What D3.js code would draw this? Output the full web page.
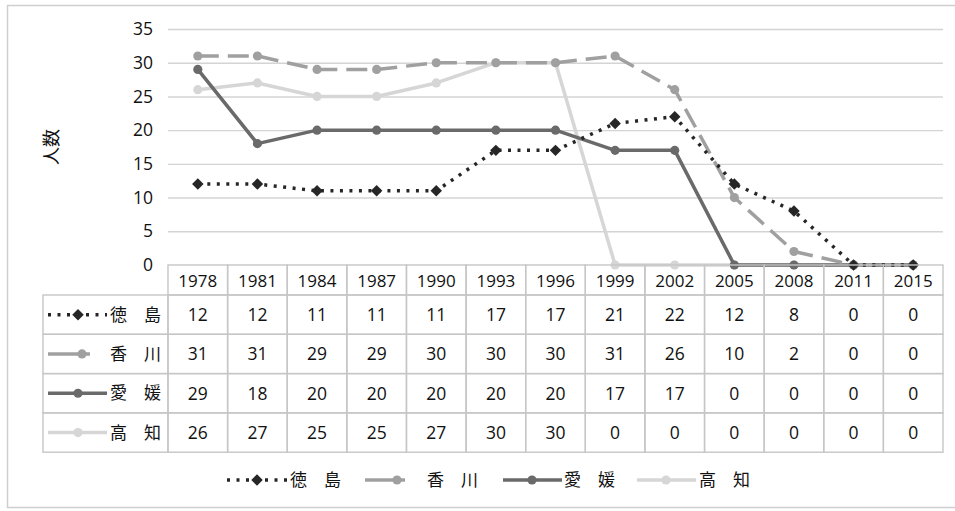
<!DOCTYPE html>
<html>
<head>
<meta charset="utf-8">
<script src="https://cdn.jsdelivr.net/npm/d3@7"></script>
<style>
  html, body { margin: 0; padding: 0; background: #fff; }
  svg { display: block; }
  text { font-family: "Open Sans", "Noto Sans", sans-serif; fill: #111; }
  .jp { font-family: "Noto Sans CJK JP", sans-serif; }
</style>
</head>
<body>
<svg id="chart" width="955" height="511"></svg>
<script>
// Survey years (table header / x categories)
const years = ["1978", "1981", "1984", "1987", "1990", "1993", "1996", "1999", "2002", "2005", "2008", "2011", "2015"];
// Head counts per prefecture
const tokushima = [12, 12, 11, 11, 11, 17, 17, 21, 22, 12, 8, 0, 0];
const kagawa    = [31, 31, 29, 29, 30, 30, 30, 31, 26, 10, 2, 0, 0];
const ehime     = [29, 18, 20, 20, 20, 20, 20, 17, 17, 0, 0, 0, 0];
const kochi     = [26, 27, 25, 25, 27, 30, 30, 0, 0, 0, 0, 0, 0];
// Series names and y tick labels
const seriesNames = ["徳　島", "香　川", "愛　媛", "高　知"];
const yTicks = [0, 5, 10, 15, 20, 25, 30, 35];
const yTitle = "人数";

const series = [
  { name: seriesNames[0], values: tokushima, color: "#262626", dash: "3,6.5", marker: "diamond" },
  { name: seriesNames[1], values: kagawa,    color: "#a0a0a0", dash: "21,9",  marker: "circle" },
  { name: seriesNames[2], values: ehime,     color: "#6a6a6a", dash: null,    marker: "circle" },
  { name: seriesNames[3], values: kochi,     color: "#d6d6d6", dash: null,    marker: "circle" }
];
const lineWidth = 3.5;

const svg = d3.select("#chart");

// outer frame (open on the right side)
svg.append("rect")
  .attr("x", 7.5).attr("y", 5.5).attr("width", 970).attr("height", 502)
  .attr("fill", "#fff").attr("stroke", "#cfcfcf").attr("stroke-width", 1.5);

const plotLeft = 168, plotRight = 943, plotTop = 29, plotBottom = 265;

const x = d3.scaleBand().domain(years).range([plotLeft, plotRight]);
const y = d3.scaleLinear().domain([0, 35]).range([plotBottom, plotTop]);
const cx = i => x(years[i]) + x.bandwidth() / 2;

// horizontal gridlines
svg.append("g")
  .selectAll("line")
  .data(yTicks.filter(d => d > 0))
  .join("line")
  .attr("x1", plotLeft).attr("x2", plotRight)
  .attr("y1", d => y(d) + 0.5).attr("y2", d => y(d) + 0.5)
  .attr("stroke", "#d4d4d4").attr("stroke-width", 1.4);

// y axis labels
const yAxis = d3.axisLeft(y).tickValues(yTicks).tickSize(0).tickPadding(0);
const yg = svg.append("g").attr("transform", `translate(${plotLeft - 15},0)`).call(yAxis);
yg.select(".domain").remove();
yg.selectAll("text").style("font-size", "17.5px").attr("fill", "#111")
  .style("font-family", "'Open Sans', sans-serif");

// y axis title
svg.append("text")
  .attr("class", "jp")
  .attr("transform", "translate(50,147) rotate(-90)")
  .attr("text-anchor", "middle")
  .attr("dominant-baseline", "central")
  .style("font-size", "18px")
  .text(yTitle);

function markerPath(s) {
  return s.marker === "diamond"
    ? d3.symbol().type(d3.symbolSquare).size(66)()
    : d3.symbol().type(d3.symbolCircle).size(66)();
}
function markerRotate(s) { return s.marker === "diamond" ? " rotate(45)" : ""; }

// lines: light series first so darker ones sit on top
const line = d3.line().x((d, i) => cx(i)).y(d => y(d));

const lg = svg.append("g");
series.slice().reverse().forEach(s => {
  lg.append("path")
    .datum(s.values)
    .attr("d", line)
    .attr("fill", "none")
    .attr("stroke", s.color)
    .attr("stroke-width", lineWidth)
    .attr("stroke-linejoin", "round")
    .attr("stroke-dasharray", s.dash);
  lg.append("g").selectAll("path")
    .data(s.values)
    .join("path")
    .attr("d", markerPath(s))
    .attr("transform", (d, i) => `translate(${cx(i)},${y(d)})${markerRotate(s)}`)
    .attr("fill", s.color);
});

// legend key: a line sample with its marker
function drawKey(g, s, x0, x1, cy, mx) {
  g.append("line")
    .attr("x1", x0).attr("x2", x1).attr("y1", cy).attr("y2", cy)
    .attr("stroke", s.color).attr("stroke-width", lineWidth)
    .attr("stroke-dasharray", s.marker === "diamond" ? s.dash : null);
  g.append("path").attr("d", markerPath(s))
    .attr("transform", `translate(${mx},${cy})${markerRotate(s)}`)
    .attr("fill", s.color);
}

// data table
const headerTop = 265, headerBottom = 295, rowH = 39.3;
const keyLeft = 43;
const tg = svg.append("g");
const gridColor = "#c6c6c6";

years.forEach(yr => {
  tg.append("rect")
    .attr("x", x(yr)).attr("y", headerTop)
    .attr("width", x.bandwidth()).attr("height", headerBottom - headerTop)
    .attr("fill", "none").attr("stroke", gridColor).attr("stroke-width", 1.4);
  tg.append("text")
    .attr("x", x(yr) + x.bandwidth() / 2).attr("y", headerTop + 22)
    .attr("text-anchor", "middle").style("font-size", "17px")
    .text(yr);
});

series.forEach((s, r) => {
  const top = headerBottom + r * rowH;
  const mid = top + rowH / 2;
  tg.append("rect")
    .attr("x", keyLeft).attr("y", top)
    .attr("width", plotLeft - keyLeft).attr("height", rowH)
    .attr("fill", "none").attr("stroke", gridColor).attr("stroke-width", 1.4);
  s.values.forEach((v, i) => {
    tg.append("rect")
      .attr("x", x(years[i])).attr("y", top)
      .attr("width", x.bandwidth()).attr("height", rowH)
      .attr("fill", "none").attr("stroke", gridColor).attr("stroke-width", 1.4);
    tg.append("text")
      .attr("x", cx(i)).attr("y", mid + 6.5)
      .attr("text-anchor", "middle").style("font-size", "17.5px")
      .text(v);
  });
  if (s.dash && s.marker !== "diamond") drawKey(tg, s, 48, 90, mid, 82);
  else drawKey(tg, s, 48, 107, mid, 78);
  tg.append("text")
    .attr("class", "jp")
    .attr("x", 161).attr("y", mid + 6)
    .attr("text-anchor", "end").style("font-size", "17px")
    .text(s.name);
});

// bottom legend
const legendY = 480;
const legendItems = [
  { k0: 227, k1: 287, m: 257, tx: 290 },
  { k0: 365, k1: 405, m: 397, tx: 427 },
  { k0: 503, k1: 562, m: 532, tx: 564 },
  { k0: 637, k1: 696, m: 666, tx: 699 }
];
series.forEach((s, i) => {
  const it = legendItems[i];
  drawKey(svg, s, it.k0, it.k1, legendY, it.m);
  svg.append("text")
    .attr("class", "jp")
    .attr("x", it.tx).attr("y", legendY + 6)
    .style("font-size", "17px")
    .text(s.name);
});
</script>
</body>
</html>
